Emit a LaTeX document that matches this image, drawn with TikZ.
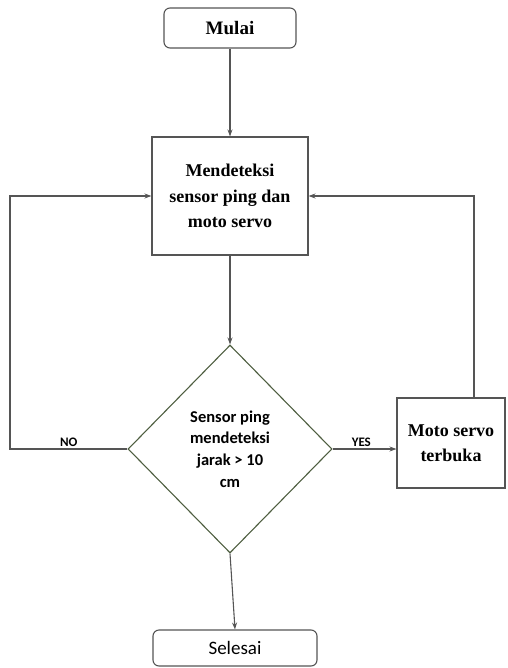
\documentclass[tikz,border=0pt]{standalone}
\usepackage{fontspec}
\setmainfont{Liberation Serif}
\newfontfamily\calibri{Carlito}
\usepackage{tikz}
\usetikzlibrary{shapes.geometric,arrows.meta,positioning}

\definecolor{linegray}{HTML}{555555}
\definecolor{diagreen}{HTML}{4E5E40}

\begin{document}
\begin{tikzpicture}[
    x=1pt, y=-1pt,
    terminal/.style={draw=linegray, line width=1.1pt, rounded corners=6pt, fill=white,
                inner sep=0pt, align=center},
    procbox/.style={draw=linegray, line width=1.1pt, fill=white, inner sep=0pt,
                align=center, font=\bfseries\fontsize{18}{25.5}\selectfont},
    decision/.style={draw=diagreen, line width=1.1pt, diamond, inner sep=0pt,
                minimum width=204pt, minimum height=208pt, align=center,
                font=\calibri\bfseries\fontsize{16.5}{21.7}\selectfont},
    arr/.style={-{Stealth[length=7pt,width=5pt]}, draw=linegray, line width=1.1pt},
    lbl/.style={font=\calibri\bfseries\fontsize{13}{14}\selectfont, inner sep=1.5pt}
]
\useasboundingbox (0,0) rectangle (507,668);

% --- Nodes ---
\node[terminal, minimum width=132pt, minimum height=40pt,
      font=\bfseries\fontsize{19}{22}\selectfont] (mulai) at (230,28) {Mulai};
\node[procbox, minimum width=156pt, minimum height=118pt] (detect) at (230,196)
    {Mendeteksi\\sensor ping dan\\moto servo};
\node[decision] (cek) at (230,449) {Sensor ping\\mendeteksi\\jarak > 10\\cm};
\node[procbox, minimum width=108pt, minimum height=90pt] (servo) at (451,443)
    {Moto servo\\terbuka};
\node[terminal, minimum width=164pt, minimum height=36pt,
      font=\calibri\fontsize{19}{22}\selectfont] (selesai) at (235,648) {Selesai};

% --- Connectors ---
\draw[arr] (mulai) -- (detect);
\draw[arr] (detect) -- (cek);
\draw[arr] (cek.south) -- (selesai.north);
\draw[arr] (cek.east) -- node[above, lbl, pos=0.45] {YES} (cek.east -| servo.west);

% NO loops back on the left
\coordinate (noturn) at (10,449);
\draw[arr] (cek.west) -- node[above, lbl, pos=0.5] {NO} (noturn) |- (detect.west);

% servo loops back on the right
\coordinate (servotop) at ([xshift=23pt]servo.north);
\draw[arr] (servotop) |- (detect.east);

\end{tikzpicture}
\end{document}
